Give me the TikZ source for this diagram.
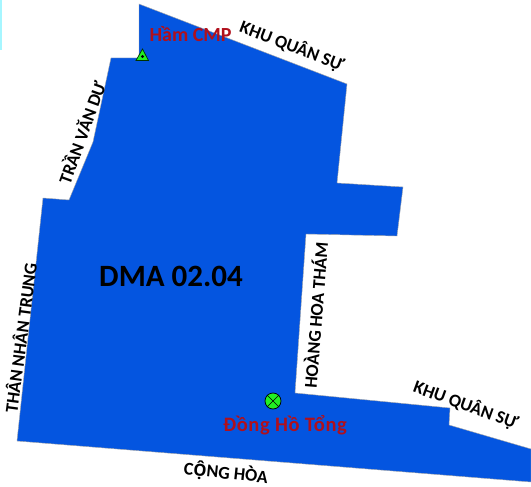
\documentclass[tikz,border=0pt]{standalone}
\usepackage{fontspec}
\setmainfont{Carlito}
\newfontfamily\hatfont[Scale=0.92]{Open Sans}
\definecolor{zoneblue}{HTML}{0455E0}
\definecolor{labelred}{HTML}{B0101C}
\definecolor{markgreen}{HTML}{22F022}
\tikzset{
  road/.style={font=\fontsize{18}{20}\selectfont\bfseries, text=black, inner sep=0pt},
  place/.style={font=\fontsize{20}{22}\selectfont\bfseries, text=labelred, inner sep=0pt},
}
\begin{document}
\begin{tikzpicture}[x=1pt,y=-1pt]
\useasboundingbox (0,0) rectangle (531,487);
\fill[white] (0,0) rectangle (531,487);
\fill[blue!10!cyan!35] (0,0) rectangle (1.5,50);
\fill[zoneblue,draw=gray!70,line width=0.4pt] (139,4) -- (347,84) -- (337,183) -- (403,187) -- (397,236) -- (306,234) -- (295,393) -- (450,408) -- (449,425) -- (531,449) -- (531,482) -- (17,441) -- (43,198) -- (69,200) -- (93,142) -- (111,58) -- (139,58) -- cycle;
\node[place] (ham) at (190.5,34.5) {Hầm CMP};
\node[place,font=\fontsize{20.5}{22}\selectfont\bfseries] (dong) at (285,425) {\addfontfeature{LetterSpace=3}Đồng Hồ Tổng};
\node[font=\fontsize{31}{34}\selectfont\bfseries, inner sep=0pt] (dma) at (171,276) {DMA 02.04};
\node[road,rotate=-21] (kqs1) at (292,46) {KHU QUÂN SỰ};
\node[road,rotate=70] (tvd) at (81,132) {TRẦN VĂN DƯ};
\node[road,rotate=82.4] (tnt) at (20,338) {THÂN NHÂN TRUNG};
\node[road,rotate=85.5] (hht) at (315,315) {HOÀNG HOA THÁM};
\node[road,rotate=-20] (kqs2) at (466,405) {KHU QUÂN SỰ};
\node[road,rotate=-6] (ch) at (226,473) {C{\hatfont Ộ}NG HÒA};
\fill[markgreen,draw=black!80!green,line width=0.7pt] (142.5,49) -- (148.5,60.5) -- (136,60.5) -- cycle;
\fill[black] (142.5,56.5) circle (1.6);
\node[circle,draw=black,fill=markgreen,line width=0.7pt,minimum size=16pt,inner sep=0pt] (meter) at (273,401) {};
\draw[black,line width=0.7pt] (meter.north west) -- (meter.south east) (meter.north east) -- (meter.south west);
\end{tikzpicture}
\end{document}
